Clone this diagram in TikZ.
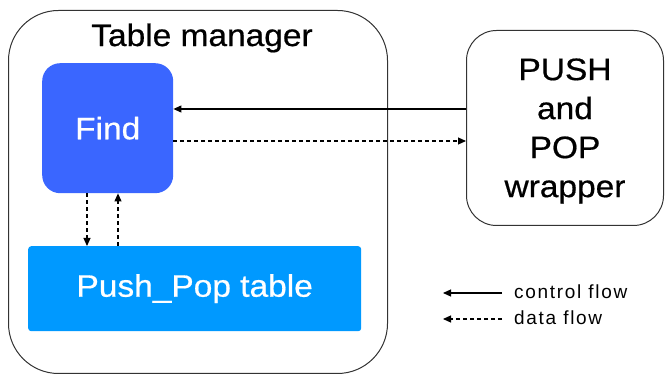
\documentclass[tikz,border=0pt]{standalone}
\usepackage{fontspec}
\setmainfont{Liberation Sans}
\newfontfamily\bigfont[FakeStretch=1.08,FakeBold=0.6]{Liberation Sans}
\newfontfamily\legfont[LetterSpace=9]{Liberation Sans}
\usetikzlibrary{arrows.meta}
\definecolor{findblue}{HTML}{3A66FF}
\definecolor{tableblue}{HTML}{0099FF}
\begin{document}
\begin{tikzpicture}[x=1pt,y=-1pt,
  tip/.style={-{Triangle[length=8pt,width=7pt]}},
  conn/.style={line width=1.1pt, tip},
  dconn/.style={line width=1.1pt, tip, dash pattern=on 4pt off 3pt},
  bigtxt/.style={font=\bigfont\fontsize{31}{37}\selectfont},
  legtxt/.style={font=\legfont\fontsize{19}{22}\selectfont, anchor=west, inner sep=0pt}
]
\useasboundingbox (0,0) rectangle (665,374);
% outer box
\node[draw=black!80, line width=1pt, rounded corners=50pt, minimum width=379pt, minimum height=363pt, anchor=north west, inner sep=0pt] (mgr) at (8,10) {};
\node[bigtxt, inner sep=0pt] (title) at (202,38) {Table manager};
% find
\node[fill=findblue, rounded corners=18pt, minimum width=131pt, minimum height=130pt, anchor=north west, inner sep=0pt, text=white, bigtxt] (find) at (42,63) {Find};
% table
\node[fill=tableblue, rounded corners=3pt, minimum width=333pt, minimum height=85pt, anchor=north west, inner sep=0pt, text=white, bigtxt] (tbl) at (28,246) {Push\_Pop table};
% wrapper
\node[draw=black!80, line width=1pt, rounded corners=30pt, minimum width=197pt, minimum height=195pt, anchor=north west, inner sep=0pt] (wrap) at (466,30) {};
\node[align=center, inner sep=0pt, font=\bigfont\fontsize{31}{39}\selectfont] (wraptxt) at (565,131) {PUSH\\and\\POP\\wrapper};
% connectors
\draw[conn] (wrap.west |- 0,109) -- (find.east |- 0,109);
\draw[dconn] (find.east |- 0,141) -- (wrap.west |- 0,141);
\draw[dconn] (find.south -| 87,0) -- (tbl.north -| 87,0);
\draw[dconn] (tbl.north -| 118,0) -- (find.south -| 118,0);
% legend
\coordinate (c1a) at (502,293);
\coordinate (c1b) at (443,293);
\coordinate (c2a) at (502,319);
\coordinate (c2b) at (443,319);
\draw[conn] (c1a) -- (c1b);
\draw[dconn] (c2a) -- (c2b);
\node[legtxt] (l1) at (514,292) {control flow};
\node[legtxt] (l2) at (514,318) {data flow};
\end{tikzpicture}
\end{document}
